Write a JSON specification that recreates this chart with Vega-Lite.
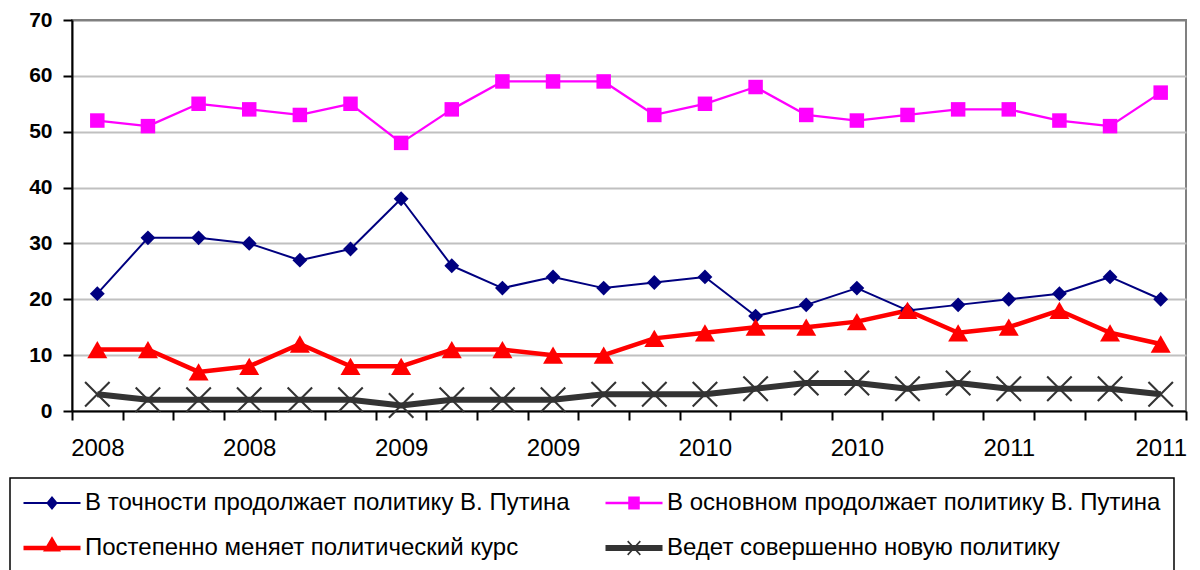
{
  "$schema": "https://vega.github.io/schema/vega-lite/v6.json",
  "autosize": "none",
  "width": 1114,
  "height": 391,
  "padding": {"left": 72, "top": 20, "right": 14, "bottom": 159},
  "background": "white",
  "config": {
    "view": {"stroke": "#808080", "strokeWidth": 2},
    "font": "Liberation Sans"
  },
  "data": {
    "values": [
      {"i": 0, "s": "В точности продолжает политику В. Путина", "v": 21},
      {"i": 1, "s": "В точности продолжает политику В. Путина", "v": 31},
      {"i": 2, "s": "В точности продолжает политику В. Путина", "v": 31},
      {"i": 3, "s": "В точности продолжает политику В. Путина", "v": 30},
      {"i": 4, "s": "В точности продолжает политику В. Путина", "v": 27},
      {"i": 5, "s": "В точности продолжает политику В. Путина", "v": 29},
      {"i": 6, "s": "В точности продолжает политику В. Путина", "v": 38},
      {"i": 7, "s": "В точности продолжает политику В. Путина", "v": 26},
      {"i": 8, "s": "В точности продолжает политику В. Путина", "v": 22},
      {"i": 9, "s": "В точности продолжает политику В. Путина", "v": 24},
      {"i": 10, "s": "В точности продолжает политику В. Путина", "v": 22},
      {"i": 11, "s": "В точности продолжает политику В. Путина", "v": 23},
      {"i": 12, "s": "В точности продолжает политику В. Путина", "v": 24},
      {"i": 13, "s": "В точности продолжает политику В. Путина", "v": 17},
      {"i": 14, "s": "В точности продолжает политику В. Путина", "v": 19},
      {"i": 15, "s": "В точности продолжает политику В. Путина", "v": 22},
      {"i": 16, "s": "В точности продолжает политику В. Путина", "v": 18},
      {"i": 17, "s": "В точности продолжает политику В. Путина", "v": 19},
      {"i": 18, "s": "В точности продолжает политику В. Путина", "v": 20},
      {"i": 19, "s": "В точности продолжает политику В. Путина", "v": 21},
      {"i": 20, "s": "В точности продолжает политику В. Путина", "v": 24},
      {"i": 21, "s": "В точности продолжает политику В. Путина", "v": 20},
      {"i": 0, "s": "В основном продолжает политику В. Путина", "v": 52},
      {"i": 1, "s": "В основном продолжает политику В. Путина", "v": 51},
      {"i": 2, "s": "В основном продолжает политику В. Путина", "v": 55},
      {"i": 3, "s": "В основном продолжает политику В. Путина", "v": 54},
      {"i": 4, "s": "В основном продолжает политику В. Путина", "v": 53},
      {"i": 5, "s": "В основном продолжает политику В. Путина", "v": 55},
      {"i": 6, "s": "В основном продолжает политику В. Путина", "v": 48},
      {"i": 7, "s": "В основном продолжает политику В. Путина", "v": 54},
      {"i": 8, "s": "В основном продолжает политику В. Путина", "v": 59},
      {"i": 9, "s": "В основном продолжает политику В. Путина", "v": 59},
      {"i": 10, "s": "В основном продолжает политику В. Путина", "v": 59},
      {"i": 11, "s": "В основном продолжает политику В. Путина", "v": 53},
      {"i": 12, "s": "В основном продолжает политику В. Путина", "v": 55},
      {"i": 13, "s": "В основном продолжает политику В. Путина", "v": 58},
      {"i": 14, "s": "В основном продолжает политику В. Путина", "v": 53},
      {"i": 15, "s": "В основном продолжает политику В. Путина", "v": 52},
      {"i": 16, "s": "В основном продолжает политику В. Путина", "v": 53},
      {"i": 17, "s": "В основном продолжает политику В. Путина", "v": 54},
      {"i": 18, "s": "В основном продолжает политику В. Путина", "v": 54},
      {"i": 19, "s": "В основном продолжает политику В. Путина", "v": 52},
      {"i": 20, "s": "В основном продолжает политику В. Путина", "v": 51},
      {"i": 21, "s": "В основном продолжает политику В. Путина", "v": 57},
      {"i": 0, "s": "Постепенно меняет политический курс", "v": 11},
      {"i": 1, "s": "Постепенно меняет политический курс", "v": 11},
      {"i": 2, "s": "Постепенно меняет политический курс", "v": 7},
      {"i": 3, "s": "Постепенно меняет политический курс", "v": 8},
      {"i": 4, "s": "Постепенно меняет политический курс", "v": 12},
      {"i": 5, "s": "Постепенно меняет политический курс", "v": 8},
      {"i": 6, "s": "Постепенно меняет политический курс", "v": 8},
      {"i": 7, "s": "Постепенно меняет политический курс", "v": 11},
      {"i": 8, "s": "Постепенно меняет политический курс", "v": 11},
      {"i": 9, "s": "Постепенно меняет политический курс", "v": 10},
      {"i": 10, "s": "Постепенно меняет политический курс", "v": 10},
      {"i": 11, "s": "Постепенно меняет политический курс", "v": 13},
      {"i": 12, "s": "Постепенно меняет политический курс", "v": 14},
      {"i": 13, "s": "Постепенно меняет политический курс", "v": 15},
      {"i": 14, "s": "Постепенно меняет политический курс", "v": 15},
      {"i": 15, "s": "Постепенно меняет политический курс", "v": 16},
      {"i": 16, "s": "Постепенно меняет политический курс", "v": 18},
      {"i": 17, "s": "Постепенно меняет политический курс", "v": 14},
      {"i": 18, "s": "Постепенно меняет политический курс", "v": 15},
      {"i": 19, "s": "Постепенно меняет политический курс", "v": 18},
      {"i": 20, "s": "Постепенно меняет политический курс", "v": 14},
      {"i": 21, "s": "Постепенно меняет политический курс", "v": 12},
      {"i": 0, "s": "Ведет совершенно новую политику", "v": 3},
      {"i": 1, "s": "Ведет совершенно новую политику", "v": 2},
      {"i": 2, "s": "Ведет совершенно новую политику", "v": 2},
      {"i": 3, "s": "Ведет совершенно новую политику", "v": 2},
      {"i": 4, "s": "Ведет совершенно новую политику", "v": 2},
      {"i": 5, "s": "Ведет совершенно новую политику", "v": 2},
      {"i": 6, "s": "Ведет совершенно новую политику", "v": 1},
      {"i": 7, "s": "Ведет совершенно новую политику", "v": 2},
      {"i": 8, "s": "Ведет совершенно новую политику", "v": 2},
      {"i": 9, "s": "Ведет совершенно новую политику", "v": 2},
      {"i": 10, "s": "Ведет совершенно новую политику", "v": 3},
      {"i": 11, "s": "Ведет совершенно новую политику", "v": 3},
      {"i": 12, "s": "Ведет совершенно новую политику", "v": 3},
      {"i": 13, "s": "Ведет совершенно новую политику", "v": 4},
      {"i": 14, "s": "Ведет совершенно новую политику", "v": 5},
      {"i": 15, "s": "Ведет совершенно новую политику", "v": 5},
      {"i": 16, "s": "Ведет совершенно новую политику", "v": 4},
      {"i": 17, "s": "Ведет совершенно новую политику", "v": 5},
      {"i": 18, "s": "Ведет совершенно новую политику", "v": 4},
      {"i": 19, "s": "Ведет совершенно новую политику", "v": 4},
      {"i": 20, "s": "Ведет совершенно новую политику", "v": 4},
      {"i": 21, "s": "Ведет совершенно новую политику", "v": 3}
    ]
  },
  "encoding": {
    "x": {
      "field": "i",
      "type": "quantitative",
      "scale": {"domain": [-0.5, 21.5], "nice": false, "zero": false},
      "axis": {
        "title": null,
        "values": [-0.5, 0, 0.5, 1.5, 2.5, 3, 3.5, 4.5, 5.5, 6, 6.5, 7.5, 8.5, 9, 9.5, 10.5, 11.5, 12, 12.5, 13.5, 14.5, 15, 15.5, 16.5, 17.5, 18, 18.5, 19.5, 20.5, 21, 21.5],
        "labelExpr": "datum.value === 0 || datum.value === 3 ? '2008' : datum.value === 6 || datum.value === 9 ? '2009' : datum.value === 12 || datum.value === 15 ? '2010' : datum.value === 18 || datum.value === 21 ? '2011' : ''",
        "tickOpacity": {"expr": "datum.value % 1 === 0 ? 0 : 1"},
        "grid": false,
        "labelOverlap": false,
        "labelFlush": false,
        "labelBound": false,
        "domainColor": "black",
        "domainWidth": 2,
        "tickColor": "black",
        "tickWidth": 2,
        "tickSize": 9,
        "labelFont": "Liberation Sans",
        "labelFontSize": 24,
        "labelColor": "black",
        "labelPadding": 16
      }
    },
    "y": {
      "field": "v",
      "type": "quantitative",
      "scale": {"domain": [0, 70], "nice": false},
      "axis": {
        "title": null,
        "values": [0, 10, 20, 30, 40, 50, 60, 70],
        "grid": true,
        "gridColor": {"expr": "datum.value === 70 ? '#808080' : '#c0c0c0'"},
        "gridWidth": 2,
        "domainColor": "black",
        "domainWidth": 2,
        "tickColor": "black",
        "tickWidth": 2,
        "tickSize": 9,
        "labelFont": "Liberation Sans",
        "labelFontSize": 21,
        "labelFontWeight": "bold",
        "labelColor": "black",
        "labelPadding": 11
      }
    }
  },
  "layer": [
    {
      "transform": [{"filter": {"field": "s", "equal": "В точности продолжает политику В. Путина"}}],
      "mark": {"type": "line", "stroke": "#000080", "strokeWidth": 2, "strokeJoin": "round"},
      "encoding": {}
    },
    {
      "transform": [{"filter": {"field": "s", "equal": "В основном продолжает политику В. Путина"}}],
      "mark": {"type": "line", "stroke": "#FF00FF", "strokeWidth": 2.3, "strokeJoin": "round"},
      "encoding": {}
    },
    {
      "transform": [{"filter": {"field": "s", "equal": "Постепенно меняет политический курс"}}],
      "mark": {"type": "line", "stroke": "#FF0000", "strokeWidth": 4.5, "strokeJoin": "round"},
      "encoding": {}
    },
    {
      "transform": [{"filter": {"field": "s", "equal": "Ведет совершенно новую политику"}}],
      "mark": {"type": "line", "stroke": "#333333", "strokeWidth": 6, "strokeJoin": "round"},
      "encoding": {}
    },
    {
      "transform": [{"filter": {"field": "s", "equal": "В точности продолжает политику В. Путина"}}],
      "mark": {"type": "point", "shape": "diamond", "size": 220, "filled": true, "fill": "#000080", "strokeWidth": 0, "opacity": 1}
    },
    {
      "transform": [{"filter": {"field": "s", "equal": "В основном продолжает политику В. Путина"}}],
      "mark": {"type": "point", "shape": "square", "size": 210, "filled": true, "fill": "#FF00FF", "strokeWidth": 0, "opacity": 1}
    },
    {
      "transform": [{"filter": {"field": "s", "equal": "Постепенно меняет политический курс"}}],
      "mark": {"type": "point", "shape": "triangle-up", "size": 400, "filled": true, "fill": "#FF0000", "strokeWidth": 0, "opacity": 1}
    },
    {
      "transform": [{"filter": {"field": "s", "equal": "Ведет совершенно новую политику"}}],
      "mark": {"type": "point", "shape": "M-1.06,-0.94L-0.94,-1.06L1.06,0.94L0.94,1.06Z M-1.06,0.94L0.94,-1.06L1.06,-0.94L-0.94,1.06Z", "size": 600, "filled": true, "fill": "#333333", "strokeWidth": 0, "opacity": 1}
    },
    {
      "mark": {"type": "point", "filled": true, "opacity": 0, "strokeWidth": 0},
      "encoding": {
        "fill": {
          "field": "s", "type": "nominal",
          "scale": {
            "domain": ["В точности продолжает политику В. Путина", "В основном продолжает политику В. Путина", "Постепенно меняет политический курс", "Ведет совершенно новую политику"],
            "range": ["#000080", "#FF00FF", "#FF0000", "#333333"]
          },
          "legend": {
            "title": null,
            "orient": "none",
            "legendX": -62,
            "legendY": 458,
            "direction": "horizontal",
            "columns": 2,
            "columnPadding": 35,
            "rowPadding": 21,
            "padding": 13,
            "strokeColor": "black",
            "labelFont": "Liberation Sans",
            "labelFontSize": 24,
            "labelColor": "black",
            "labelOffset": 38,
            "labelLimit": 800,
            "symbolSize": 529,
            "symbolStrokeWidth": 0,
            "symbolOpacity": 1,
            "encode": {
              "legend": {"update": {"strokeWidth": {"value": 1.5}}},
              "symbols": {
                "update": {
                  "shape": {"signal": "datum.value === 'В точности продолжает политику В. Путина' ? 'M-1,-0.087H3.957V0.087H-1Z M1.478,-0.61L1.978,0L1.478,0.61L0.978,0Z' : datum.value === 'В основном продолжает политику В. Путина' ? 'M-1,-0.1H3.957V0.1H-1Z M0.978,-0.565H1.978V0.565H0.978Z' : datum.value === 'Постепенно меняет политический курс' ? 'M-1,-0.2H3.957V0.2H-1Z M1.478,-1.02L2.258,0.3L0.698,0.3Z' : 'M-1,-0.26H3.957V0.26H-1Z M0.878,-0.55L0.978,-0.66L2.078,0.55L1.978,0.66Z M0.878,0.55L1.978,-0.66L2.078,-0.55L0.978,0.66Z'"},
                  "size": {"value": 529},
                  "strokeWidth": {"value": 0},
                  "opacity": {"value": 1}
                }
              }
            }
          }
        }
      }
    }
  ]
}
